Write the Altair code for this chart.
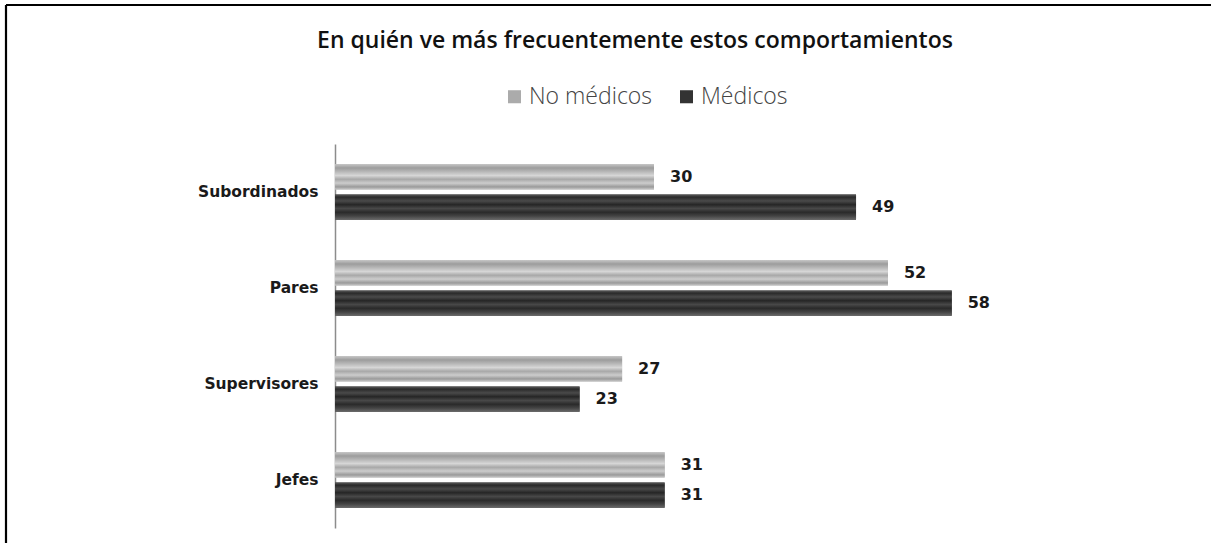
import altair as alt
import pandas as pd

categories = ["Subordinados", "Pares", "Supervisores", "Jefes"]
series = ["No médicos", "Médicos"]
no_medicos = [30, 52, 27, 31]
medicos = [49, 58, 23, 31]

rows = []
for c, a, b in zip(categories, no_medicos, medicos):
    rows.append({"cat": c, "serie": series[0], "val": a})
    rows.append({"cat": c, "serie": series[1], "val": b})
df = pd.DataFrame(rows)

y_enc = alt.Y("cat:N", sort=categories, title=None,
              scale=alt.Scale(paddingInner=0.42, paddingOuter=0.21),
              axis=alt.Axis(domainColor="#8c8c8c", domainWidth=1.5, ticks=False,
                            labelPadding=17, labelFont="DejaVu Sans", labelFontWeight="bold",
                            labelFontSize=15.5, labelColor="#1a1a1a", grid=False))
yoff_enc = alt.YOffset("serie:N", sort=series,
                       scale=alt.Scale(domain=series, paddingInner=0.17, paddingOuter=0))
x_enc = alt.X("val:Q", title=None, scale=alt.Scale(domain=[0, 60], nice=False),
              axis=None)

base = alt.Chart(df)

bars = base.mark_bar().encode(
    x=x_enc, y=y_enc, yOffset=yoff_enc,
    color=alt.Color("serie:N", sort=series,
                    scale=alt.Scale(domain=series, range=["#ababab", "#333333"]),
                    legend=alt.Legend(title=None, orient="none", direction="horizontal",
                                      legendX=168, legendY=-59, symbolType="square",
                                      symbolSize=170, symbolStrokeWidth=0,
                                      labelFont="Open Sans", labelFontSize=23,
                                      labelFontWeight=300, labelColor="#444444",
                                      columnPadding=22, labelOffset=3)),
)

light_grad = alt.Gradient(
    gradient="linear", x1=0, x2=0, y1=0, y2=1,
    stops=[alt.GradientStop(color="#c6c6c6", offset=0),
           alt.GradientStop(color="#9c9c9c", offset=0.15),
           alt.GradientStop(color="#b8b8b8", offset=0.3),
           alt.GradientStop(color="#d6d6d6", offset=0.45),
           alt.GradientStop(color="#a8a8a8", offset=0.6),
           alt.GradientStop(color="#cccccc", offset=0.75),
           alt.GradientStop(color="#9a9a9a", offset=0.9),
           alt.GradientStop(color="#c8c8c8", offset=1)])
dark_grad = alt.Gradient(
    gradient="linear", x1=0, x2=0, y1=0, y2=1,
    stops=[alt.GradientStop(color="#5a5a5a", offset=0),
           alt.GradientStop(color="#2a2a2a", offset=0.1),
           alt.GradientStop(color="#4a4a4a", offset=0.25),
           alt.GradientStop(color="#262626", offset=0.4),
           alt.GradientStop(color="#484848", offset=0.55),
           alt.GradientStop(color="#2a2a2a", offset=0.7),
           alt.GradientStop(color="#444444", offset=0.85),
           alt.GradientStop(color="#6a6a6a", offset=1)])

light = base.mark_bar(fill=light_grad).encode(
    x=x_enc, y=y_enc, yOffset=yoff_enc
).transform_filter(alt.datum.serie == series[0])
dark = base.mark_bar(fill=dark_grad).encode(
    x=x_enc, y=y_enc, yOffset=yoff_enc
).transform_filter(alt.datum.serie == series[1])

labels = base.mark_text(align="left", baseline="middle", dx=16, font="DejaVu Sans",
                        fontWeight="bold", fontSize=16, color="#1a1a1a").encode(
    x=x_enc, y=y_enc, yOffset=yoff_enc, text="val:Q")

one = alt.Data(values=[{}])
frame_top = alt.Chart(one).mark_rule(color="black", strokeWidth=2.2).encode(
    x=alt.value(-329), x2=alt.value(900), y=alt.value(-139))
frame_left = alt.Chart(one).mark_rule(color="black", strokeWidth=2.2).encode(
    x=alt.value(-329), y=alt.value(-139), y2=alt.value(420))

chart = alt.layer(bars, light, dark, labels, frame_top, frame_left).properties(
    width=638, height=384,
    autosize=alt.AutoSizeParams(type="none"),
    padding={"left": 335, "top": 144, "right": 238, "bottom": 15},
    title=alt.Title("En quién ve más frecuentemente estos comportamientos",
                    font="Open Sans", fontSize=23, fontWeight=600, color="#111111",
                    anchor="middle", dx=-19, offset=0, dy=49),
).configure(background="white").configure_view(strokeWidth=0, stroke="transparent")

chart.save("out.html", embed_options={"renderer": "svg", "actions": False})
